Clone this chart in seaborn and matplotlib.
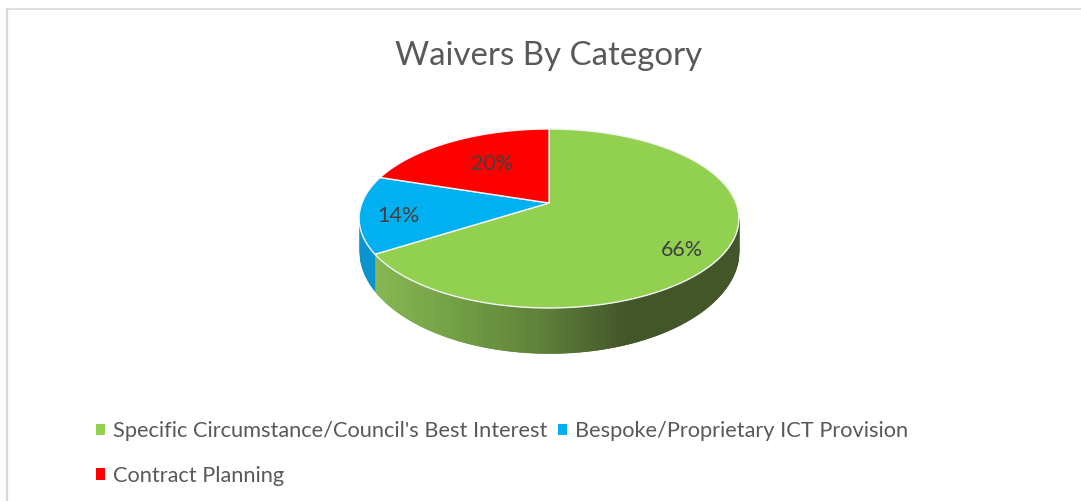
import numpy as np
import matplotlib
matplotlib.use("Agg")
import matplotlib.pyplot as plt
from matplotlib.transforms import Transform, Affine2D
from matplotlib.path import Path
import seaborn as sns

categories = ["Specific Circumstance/Council's Best Interest",
              "Bespoke/Proprietary ICT Provision", "Contract Planning"]
shares = [66, 14, 20]
colours = ["#92D050", "#00B0F0", "#FF0000"]
title = "Waivers By Category"

sns.set_theme(style="white")
plt.rcParams["font.family"] = ["Lato", "DejaVu Sans"]

APEX_X, APEX_Y, RX, RY, K = 549.0, 203.0, 187.0, 86.8, 0.173


class Tilt(Transform):
    """Projects the unit-circle pie onto the tilted top face."""
    input_dims = output_dims = 2

    def transform_non_affine(self, xy):
        xy = np.asarray(xy, float)
        w = 1 + K * xy[:, 1]
        return np.column_stack([APEX_X + RX * xy[:, 0] / w,
                                APEX_Y - RY * xy[:, 1] / w])

    def transform_path_non_affine(self, path):
        # flatten the arcs finely before projecting them
        polys = path.to_polygons(Affine2D().scale(2000), closed_only=False)
        verts = np.vstack(polys) / 2000
        return Path(self.transform_non_affine(verts), closed=True)


tilt = Tilt()
fig = plt.figure(figsize=(10.81, 5.01), dpi=100, facecolor="white")
ax = fig.add_axes([0, 0, 1, 1])

wedges, _ = ax.pie(shares, colors=colours, startangle=90, counterclock=False,
                   labels=None, wedgeprops=dict(edgecolor="#f4f4f4", linewidth=1.0, zorder=3))
for w in wedges:
    w.set_transform(tilt + ax.transData)

ax.set_aspect("auto")
ax.set_xlim(0, 1081)
ax.set_ylim(501, 0)
ax.axis("off")

# Side wall: between the lower half of the top rim and the lower rim.
CX, TOP_CY, TOP_RY, BOT_CY, BOT_RY, WALL_RX = 549.0, 218.5, 89.5, 250.0, 103.0, 190.0
frac = np.cumsum(shares) / np.sum(shares)
t_split = 2 * np.pi * frac[0]
split_x = tilt.transform_non_affine(np.array([[np.sin(t_split), np.cos(t_split)]]))[0, 0]

ramp = sns.blend_palette(["#82B54B", "#6B9A3C", "#577A30", "#3A4F1F"], n_colors=120)
xs = np.linspace(CX - WALL_RX, CX + WALL_RX, 381)
u = np.sqrt(np.clip(1 - ((xs - CX) / WALL_RX) ** 2, 0, 1))
y_top = TOP_CY + TOP_RY * u
y_bot = BOT_CY + BOT_RY * u
for i in range(len(xs) - 1):
    xm = 0.5 * (xs[i] + xs[i + 1])
    if xm < split_x:
        c = "#0090CC"
    else:
        g = np.clip((xm - split_x) / (625 - split_x), 0, 1)
        c = ramp[int(g * (len(ramp) - 1))]
    ax.fill_between(xs[i:i + 2], y_top[i:i + 2], y_bot[i:i + 2], color=c,
                    linewidth=0.4, zorder=2)

# Percent labels
label_xy = [(682, 250), (398, 216), (492, 164)]
for s, (lx, ly) in zip(shares, label_xy):
    ax.text(lx, ly, f"{s}%", ha="center", va="center", fontsize=15.5, color="#404040", zorder=5)

ax.text(549, 56, title, ha="center", va="center", fontsize=23.8, color="#595959")

# Frame lines (top and left of the chart area)
ax.plot([7, 1081], [8.5, 8.5], color="#d9d9d9", lw=1.2, zorder=1, clip_on=False)
ax.plot([7, 7], [8.5, 501], color="#d9d9d9", lw=1.6, zorder=1, clip_on=False)

order = [0, 2, 1]
leg = ax.legend([wedges[i] for i in order], [categories[i] for i in order],
                ncols=2, loc="upper left", bbox_to_anchor=(96, 421), bbox_transform=ax.transData,
                frameon=False, fontsize=15.7, handlelength=0.42, handleheight=0.42,
                handletextpad=0.36, columnspacing=0.5, labelspacing=1.14,
                borderpad=0, borderaxespad=0, labelcolor="#595959")
for h in leg.legend_handles:
    h.set_edgecolor("none")

fig.savefig("out.png", dpi=100, facecolor="white")
